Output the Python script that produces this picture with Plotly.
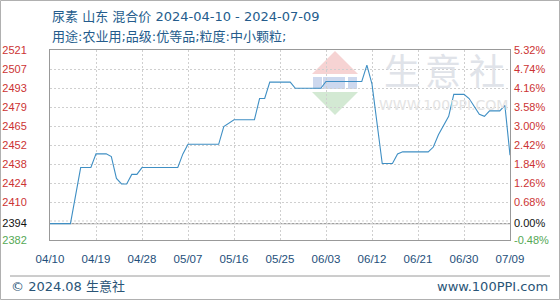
import datetime as dt
import plotly.graph_objects as go

# ---------------- data ----------------
start_date = dt.date(2024, 4, 10)
day_offsets = [0, 4, 6, 8, 9, 11, 12, 13, 14, 15, 16, 17, 18, 25, 26, 27, 33, 34, 36, 40,
               41, 42, 43, 47, 48, 53, 54, 61, 62, 63, 65, 67, 68, 69, 74, 75, 76, 78, 79,
               81, 82, 84, 85, 86, 88, 89, 90]
prices = [2394, 2394, 2435, 2435, 2445, 2445, 2443, 2427, 2423, 2423, 2430, 2430, 2435, 2435,
          2445, 2452, 2452, 2465, 2470, 2470, 2485.5, 2485.5, 2497.5, 2497.5, 2493, 2493,
          2498, 2498, 2510, 2496, 2438, 2438, 2445, 2446.5, 2446.5, 2450, 2459, 2472.5,
          2488.5, 2488.5, 2485.5, 2474, 2472.5, 2476.5, 2476.5, 2480.5, 2444]
dates = [start_date + dt.timedelta(days=d) for d in day_offsets]

y_tick_vals = [2382, 2394, 2409.8, 2423.7, 2437.6, 2451.5, 2465.4, 2479.3, 2493.2, 2507.1, 2521]
y_tick_text = ["2382", "2394", "2410", "2424", "2438", "2452", "2465", "2479", "2493", "2507", "2521"]
pct_tick_text = ["-0.48%", "0.00%", "0.68%", "1.26%", "1.84%", "2.42%", "3.00%", "3.58%",
                 "4.16%", "4.74%", "5.32%"]
base_value = 2394
extra_grid_value = 2395.9
y_range = [2382, 2521]

x_tick_dates = [start_date + dt.timedelta(days=9 * i) for i in range(11)]
x_tick_text = [d.strftime("%m/%d") for d in x_tick_dates]
end_date = dt.date(2024, 7, 9)

title_line1 = "尿素 山东 混合价 2024-04-10 - 2024-07-09"
title_line2 = "用途:农业用;品级:优等品;粒度:中小颗粒;"
footer_left = "© 2024.08 生意社"
footer_right = "www.100PPI.com"
watermark_chars = ["生", "意", "社"]
watermark_url = "WWW.100PPI.COM"

# ---------------- styles ----------------
RED = "#cc3333"
GREEN = "#55a855"
BLACK = "#111111"
BLUE_TXT = "#245c8c"
NUM_FONT = "Liberation Sans, Arial, Noto Sans CJK SC"
TXT_FONT = "DejaVu Sans, Noto Sans CJK SC"

L, R, T, B = 50, 50, 50, 60
W, H = 560, 300
PW, PH = W - L - R, H - T - B


def px(x):
    return (x - L) / PW


def py(y):
    return (H - B - y) / PH


def color_label(txt, i):
    c = GREEN if i == 0 else (BLACK if i == 1 else RED)
    return f'<span style="color:{c}">{txt}</span>'


left_text = [color_label(t, i) for i, t in enumerate(y_tick_text)]
right_text = [color_label(t, i) for i, t in enumerate(pct_tick_text)]

fig = go.Figure()
fig.add_trace(go.Scatter(x=dates, y=prices, mode="lines",
                         line=dict(color="#3f8fc4", width=1.1),
                         hoverinfo="skip", showlegend=False))
fig.add_trace(go.Scatter(x=[dates[0]], y=[prices[0]], yaxis="y2", mode="markers",
                         marker=dict(opacity=0), hoverinfo="skip", showlegend=False))

grid_dash = "2px,2px"
fig.update_layout(
    width=W, height=H,
    margin=dict(l=L, r=R, t=T, b=B, autoexpand=False),
    paper_bgcolor="white", plot_bgcolor="white",
    xaxis=dict(
        type="date", range=[start_date, end_date], automargin=False,
        tickmode="array", tickvals=x_tick_dates, ticktext=x_tick_text,
        showgrid=True, gridcolor="#cfcfcf", griddash=grid_dash, gridwidth=1,
        showline=True, linecolor="#999999", linewidth=1, mirror=True,
        ticks="", ticklabelstandoff=8,
        tickfont=dict(family=NUM_FONT, size=11.5, color="#1e4f7a"),
        zeroline=False, fixedrange=True,
    ),
    yaxis=dict(
        range=y_range, tickmode="array", tickvals=y_tick_vals, ticktext=left_text,
        automargin=False,
        showgrid=True, gridcolor="#cfcfcf", griddash=grid_dash, gridwidth=1,
        showline=True, linecolor="#999999", linewidth=1, mirror=True,
        ticks="", ticklabelstandoff=20,
        tickfont=dict(family=NUM_FONT, size=11, color=RED),
        zeroline=False, fixedrange=True,
    ),
    yaxis2=dict(
        range=y_range, overlaying="y", side="right", tickmode="array", automargin=False,
        tickvals=y_tick_vals, ticktext=right_text, showgrid=False,
        ticks="", ticklabelstandoff=3, showline=False,
        tickfont=dict(family=NUM_FONT, size=11, color=RED),
        zeroline=False, fixedrange=True,
    ),
)

shapes = []
# outer border
shapes.append(dict(type="rect", xref="paper", yref="paper", x0=px(0.5), x1=px(W - 0.5),
                   y0=py(H - 0.5), y1=py(0.5), line=dict(color="#b0b0b0", width=1), layer="below"))
# footer separator
shapes.append(dict(type="line", xref="paper", yref="paper", x0=px(10), x1=px(550),
                   y0=py(276), y1=py(276), line=dict(color="#9a9a9a", width=1)))
# extra dotted grid just above base
shapes.append(dict(type="line", xref="paper", yref="y", x0=0, x1=1, y0=extra_grid_value,
                   y1=extra_grid_value, line=dict(color="#cfcfcf", width=1, dash=grid_dash),
                   layer="below"))
# base line
shapes.append(dict(type="line", xref="paper", yref="y", x0=0, x1=1, y0=base_value,
                   y1=base_value, line=dict(color="#a0a0a0", width=1.2), layer="below"))
# watermark logo: red roof, blue bars, green inverted triangle
shapes.append(dict(type="path", xref="paper", yref="paper",
                   path=f"M {px(312)} {py(74)} L {px(335)} {py(51)} L {px(358)} {py(74)} Z",
                   fillcolor="#f6d3d3", line=dict(width=0), layer="below"))
for bx0, bx1 in [(313, 322), (323, 345), (348, 357)]:
    shapes.append(dict(type="rect", xref="paper", yref="paper", x0=px(bx0), x1=px(bx1),
                       y0=py(89), y1=py(77), fillcolor="#cdd8ee", line=dict(width=0),
                       layer="below"))
shapes.append(dict(type="path", xref="paper", yref="paper",
                   path=f"M {px(312)} {py(92)} L {px(358)} {py(92)} L {px(335)} {py(115)} Z",
                   fillcolor="#d3e9d3", line=dict(width=0), layer="below"))
fig.update_layout(shapes=shapes)

annotations = [
    dict(text=title_line1, x=px(50), y=py(16), xanchor="left", yanchor="middle",
         font=dict(family=TXT_FONT, size=13, color=BLUE_TXT)),
    dict(text=title_line2, x=px(50), y=py(36), xanchor="left", yanchor="middle",
         font=dict(family=TXT_FONT, size=13, color=BLUE_TXT)),
    dict(text=footer_left, x=px(9), y=py(286), xanchor="left", yanchor="middle",
         font=dict(family=TXT_FONT, size=13, color="#2a5577")),
    dict(text=footer_right, x=px(550), y=py(286), xanchor="right", yanchor="middle",
         font=dict(family=TXT_FONT, size=13, color="#2a5577")),
    dict(text=watermark_url, x=px(443), y=py(105), xanchor="center", yanchor="middle",
         font=dict(family=TXT_FONT, size=14, color="#e4e4e4")),
]
for ch, cx in zip(watermark_chars, [402, 443, 487]):
    annotations.append(dict(text=ch, x=px(cx), y=py(69), xanchor="center", yanchor="middle",
                            font=dict(family="Noto Sans CJK SC", size=36, color="#e0e3e9")))
for a in annotations:
    a.update(xref="paper", yref="paper", showarrow=False)
fig.update_layout(annotations=annotations)

fig.write_html("out.html")
